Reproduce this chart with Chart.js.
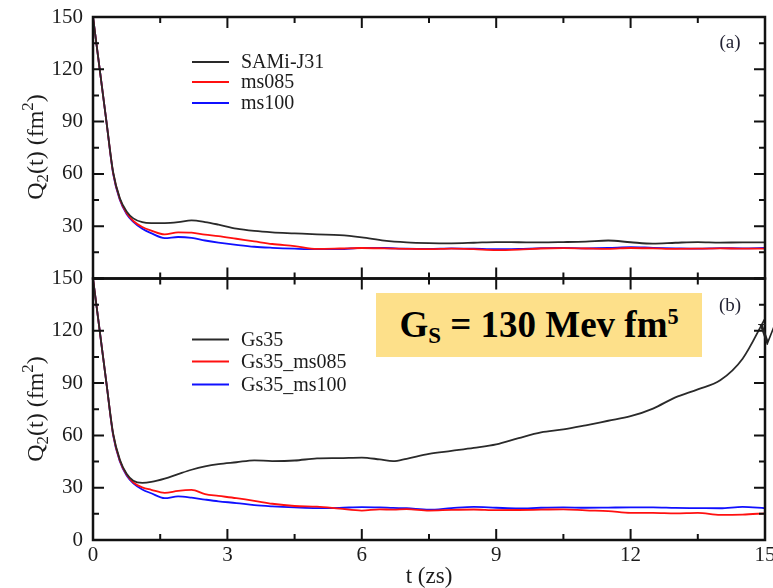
<!DOCTYPE html>
<html>
<head>
<meta charset="utf-8">
<script src="https://cdn.jsdelivr.net/npm/chart.js@4.4.1/dist/chart.umd.min.js"></script>
<style>
  body { margin: 0; background: #fff; overflow: hidden; }
  #wrap { position: relative; width: 773px; height: 588px; overflow: hidden; background: #fff; }
  #q2 { position: absolute; left: 0; top: 0; }
  .ytitle {
    position: absolute; left: 36px;
    font-family: "Liberation Serif", serif; font-size: 24px; color: #1c1c1c;
    white-space: nowrap; line-height: 1;
    transform: translate(-50%, -50%) rotate(-90deg);
  }
  .ytitle sub { font-size: 0.7em; vertical-align: -0.3em; }
  .ytitle sup { font-size: 0.7em; vertical-align: 0.6em; }
  #gs {
    position: absolute; left: 376px; top: 293px; width: 326px; height: 64px;
    background: #fde08a; text-align: center;
    font-family: "Liberation Serif", serif; font-weight: bold; font-size: 37px;
    line-height: 64px; color: #000; white-space: nowrap;
  }
  #gs sub { font-size: 0.62em; vertical-align: -0.28em; line-height: 0; }
  #gs sup { font-size: 0.6em; vertical-align: 0.6em; line-height: 0; }
  #edge {
    position: absolute; left: 758px; top: 318px;
    font-family: "Liberation Serif", serif; font-size: 32px; color: #222; line-height: 1;
  }
</style>
</head>
<body>
<div id="wrap">
  <canvas id="q2" width="773" height="588"></canvas>
  <div class="ytitle" style="top:147px">Q<sub>2</sub>(t) (fm<sup>2</sup>)</div>
  <div class="ytitle" style="top:409px">Q<sub>2</sub>(t) (fm<sup>2</sup>)</div>
  <div id="gs">G<sub>S</sub> = 130 Mev fm<sup>5</sup></div>
  <div id="edge">W</div>
</div>
<script>
// panel (a): time grid (zs) and Q2 values (fm^2)
const timeA = [0, 0.15, 0.3, 0.45, 0.6, 0.75, 0.9, 1.1, 1.3, 1.6, 1.9, 2.2, 2.5, 2.8, 3.2, 3.6, 4.0, 4.5,
  5.0, 5.5, 6.0, 6.5, 7.0, 7.5, 8.0, 8.5, 9.0, 9.5, 10.0, 10.5, 11.0, 11.5, 12.0, 12.5, 13.0, 13.5, 14.0, 14.5, 15.0];
const samiJ31 = [150, 120, 90, 61, 46, 38.5, 34.5, 32.3, 31.8, 31.8, 32.3, 33.3, 32.4, 30.9, 28.6, 27.3, 26.5, 25.9,
  25.3, 24.9, 23.6, 21.7, 20.7, 20.3, 20.2, 20.5, 20.9, 20.8, 20.7, 20.9, 21.2, 21.8, 20.8, 20.0, 20.5, 20.9, 20.6, 20.7, 20.7];
const ms085 = [150, 120, 90, 60.5, 45.5, 37.5, 33, 29.5, 27.5, 25.3, 26.5, 26.3, 25.2, 24.3, 22.8, 21.3, 19.8, 18.6,
  17.0, 17.2, 17.5, 17.3, 17.0, 16.8, 17.1, 16.8, 16.3, 16.6, 17.2, 17.4, 17.2, 17.0, 17.5, 17.3, 17.0, 17.1, 17.3, 17.1, 17.1];
const ms100 = [150, 120, 90, 60, 45, 37, 32.5, 28.5, 26, 23.2, 23.8, 23.3, 21.8, 20.6, 19.3, 18.2, 17.6, 17.1,
  16.8, 16.8, 17.6, 17.5, 17.1, 17.0, 17.3, 17.1, 16.8, 17.0, 17.4, 17.5, 17.3, 17.5, 18.0, 17.6, 17.3, 17.1, 17.4, 17.3, 17.5];

// panel (b)
const timeB = [0, 0.15, 0.3, 0.45, 0.6, 0.75, 0.9, 1.1, 1.3, 1.6, 1.9, 2.2, 2.5, 2.8, 3.2, 3.6, 4.0, 4.5,
  5.0, 5.5, 6.0, 6.4, 6.7, 7.0, 7.5, 8.0, 8.5, 9.0, 9.5, 10.0, 10.5, 11.0, 11.5, 12.0, 12.5, 13.0, 13.5, 14.0, 14.5, 15.0];
const gs35 = [150, 120, 90, 61, 46, 38, 34, 32.8, 33.3, 35.2, 37.8, 40.3, 42.2, 43.5, 44.6, 45.7, 45.3, 45.6,
  46.8, 47.0, 47.3, 46.2, 45.2, 46.6, 49.4, 51.1, 52.8, 54.8, 58.4, 61.7, 63.4, 65.8, 68.4, 71.0, 75.4, 81.8, 86.4, 91.6, 104, 127];
const gs35ms085 = [150, 120, 90, 60.5, 45.5, 37.5, 33, 30.2, 28.8, 27.0, 28.2, 28.7, 26.3, 25.3, 24.0, 22.5, 20.8, 19.5,
  19.1, 18.0, 16.9, 17.6, 17.4, 17.7, 16.9, 17.3, 17.5, 17.1, 17.2, 17.4, 17.6, 17.0, 16.6, 15.6, 15.6, 15.3, 15.6, 14.4, 14.6, 15.3];
const gs35ms100 = [150, 120, 90, 60, 45, 37, 32.5, 29, 26.8, 24.0, 25.0, 24.3, 23.2, 22.2, 21.2, 20.0, 19.3, 18.7,
  18.3, 18.4, 18.9, 18.7, 18.4, 18.2, 17.4, 18.3, 19.0, 18.5, 18.1, 18.5, 18.7, 18.5, 18.6, 18.7, 18.7, 18.4, 18.3, 18.2, 19.0, 18.2];

const yTicks = [0, 30, 60, 90, 120, 150];
const xTicks = [0, 3, 6, 9, 12, 15];

const serif = '"Liberation Serif", "Times New Roman", serif';
const ink = '#1c1c1c';

function pts(ts, vs) {
  return ts.map((t, i) => ({ x: t, y: vs[i] }));
}

function series(label, ts, vs, color, axis) {
  return {
    label, data: pts(ts, vs), yAxisID: axis,
    borderColor: color, borderWidth: 1.8, pointRadius: 0,
    cubicInterpolationMode: 'monotone', fill: false,
  };
}

// frame with inward ticks on all four sides, legends and panel tags
const panelDecor = {
  id: 'panelDecor',
  afterDatasetsDraw(chart) {
    const { ctx, scales } = chart;
    const x = scales.x;
    ctx.save();
    ctx.strokeStyle = '#111';
    ctx.lineCap = 'butt';
    for (const y of [scales.yA, scales.yB]) {
      ctx.lineWidth = 2;
      ctx.beginPath();
      for (let t = 0; t <= 15; t += 1.5) {
        const px = x.getPixelForValue(t);
        const len = t % 3 === 0 ? 11 : 6;
        ctx.moveTo(px, y.bottom); ctx.lineTo(px, y.bottom - len);
        ctx.moveTo(px, y.top); ctx.lineTo(px, y.top + len);
      }
      for (let v = 0; v <= 150; v += 15) {
        const py = y.getPixelForValue(v);
        const len = v % 30 === 0 ? 11 : 6;
        ctx.moveTo(x.left, py); ctx.lineTo(x.left + len, py);
        ctx.moveTo(x.right, py); ctx.lineTo(x.right - len, py);
      }
      ctx.stroke();
      ctx.lineWidth = 2.5;
      ctx.strokeRect(x.left, y.top, x.right - x.left, y.bottom - y.top);
    }

    // legends
    const rows = { yA: [45, 65, 86], yB: [61, 83, 106] };
    ctx.font = '20px ' + serif;
    ctx.textBaseline = 'middle';
    ctx.textAlign = 'left';
    for (const id of ['yA', 'yB']) {
      const sets = chart.data.datasets.filter(d => d.yAxisID === id);
      sets.forEach((d, i) => {
        const py = scales[id].top + rows[id][i];
        ctx.strokeStyle = d.borderColor;
        ctx.lineWidth = 2.2;
        ctx.beginPath();
        ctx.moveTo(192, py); ctx.lineTo(229, py);
        ctx.stroke();
        ctx.fillStyle = ink;
        ctx.fillText(d.label, 241, py + 1);
      });
    }

    ctx.font = '19px ' + serif;
    ctx.fillStyle = '#223';
    ctx.textAlign = 'center';
    ctx.fillText('(a)', x.right - 35, scales.yA.top + 26);
    ctx.fillText('(b)', x.right - 35, scales.yB.top + 28);
    ctx.restore();
  }
};

function fixY(s) {
  s.width = 93;
  s.paddingTop = 0;
  s.paddingBottom = 0;
}

new Chart(document.getElementById('q2'), {
  type: 'line',
  data: {
    datasets: [
      series('SAMi-J31', timeA, samiJ31, '#2a2a2a', 'yA'),
      series('ms085', timeA, ms085, '#ff1010', 'yA'),
      series('ms100', timeA, ms100, '#1010ff', 'yA'),
      series('Gs35', timeB, gs35, '#2a2a2a', 'yB'),
      series('Gs35_ms085', timeB, gs35ms085, '#ff1010', 'yB'),
      series('Gs35_ms100', timeB, gs35ms100, '#1010ff', 'yB'),
    ],
  },
  options: {
    responsive: false,
    animation: false,
    layout: { padding: { top: 17, right: 8, left: 0, bottom: 0 } },
    plugins: { legend: { display: false }, tooltip: { enabled: false } },
    scales: {
      x: {
        type: 'linear', min: 0, max: 15,
        afterBuildTicks: (s) => { s.ticks = xTicks.map(v => ({ value: v })); },
        afterFit: (s) => { s.height = 48; s.paddingLeft = 0; s.paddingRight = 0; },
        grid: { display: false, drawTicks: false },
        border: { display: false },
        ticks: { font: { family: serif, size: 21 }, color: ink, padding: 3, maxRotation: 0 },
        title: {
          display: true, text: 't (zs)', color: ink,
          font: { family: serif, size: 23, lineHeight: 1 }, padding: { top: 0, bottom: 0 },
        },
      },
      yB: {
        type: 'linear', position: 'left', stack: 'panels', stackWeight: 1, weight: 0,
        min: 0, max: 150,
        afterBuildTicks: (s) => { s.ticks = yTicks.map(v => ({ value: v })); },
        afterFit: fixY,
        grid: { display: false, drawTicks: false },
        border: { display: false },
        ticks: { font: { family: serif, size: 21 }, color: ink, padding: 10 },
      },
      yA: {
        type: 'linear', position: 'left', stack: 'panels', stackWeight: 1, weight: 1,
        min: 0, max: 150,
        afterBuildTicks: (s) => { s.ticks = yTicks.map(v => ({ value: v })); },
        afterFit: fixY,
        grid: { display: false, drawTicks: false },
        border: { display: false },
        ticks: {
          font: { family: serif, size: 21 }, color: ink, padding: 10,
          callback: (v) => (v === 0 ? '' : v),
        },
      },
    },
  },
  plugins: [panelDecor],
});
</script>
</body>
</html>
